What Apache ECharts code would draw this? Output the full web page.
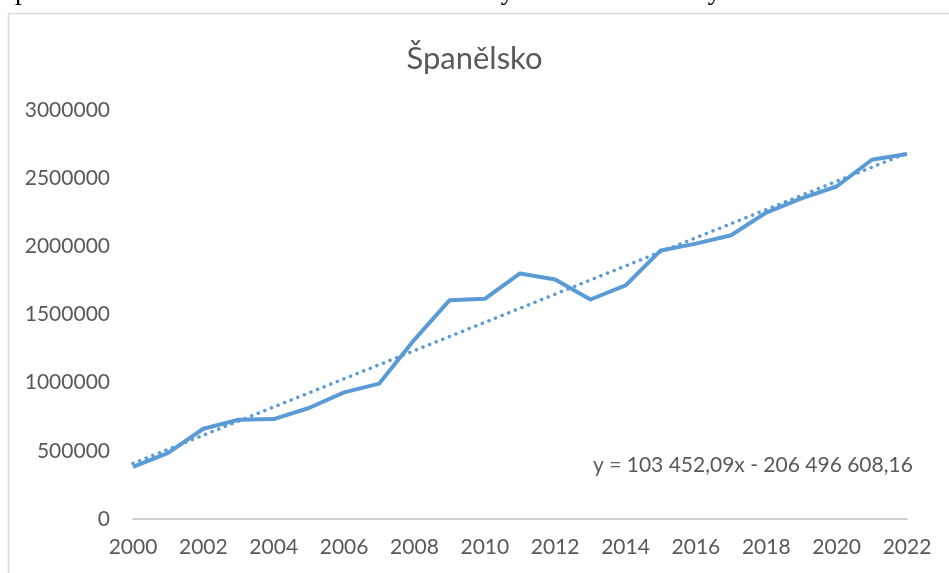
<!DOCTYPE html>
<html>
<head>
<meta charset="utf-8">
<title>Španělsko</title>
<script src="https://cdn.jsdelivr.net/npm/echarts@6/dist/echarts.min.js"></script>
<style>
  html, body { margin: 0; padding: 0; background: #fff; }
  #chart { width: 949px; height: 573px; }
</style>
</head>
<body>
<div id="chart"></div>
<script>
// roky a hodnoty
var years = [2000, 2001, 2002, 2003, 2004, 2005, 2006, 2007, 2008, 2009, 2010, 2011,
             2012, 2013, 2014, 2015, 2016, 2017, 2018, 2019, 2020, 2021, 2022];
var values = [382000, 485000, 662000, 728000, 733000, 814000, 929000, 993000, 1316000, 1605000, 1615000, 1801000,
              1757000, 1610000, 1713000, 1970000, 2020000, 2081000, 2248000, 2351000, 2439000, 2635000, 2677000];
// lineární trend - krajní body podle rovnice v grafu
var trendYears = [2000, 2022];
var trendValues = [407572, 2683518];
var equation = 'y = 103 452,09x - 206 496 608,16';
var chartTitle = 'Španělsko';
var caption = 'Španělska za období 2000 - 2022 na základě výše uvedené tabulky.';

var lineColor = '#5B9BD5';
var textColor = '#595959';
var font = 'Lato, "Open Sans", sans-serif';

var chart = echarts.init(document.getElementById('chart'));

chart.setOption({
  animation: false,
  title: {
    text: chartTitle,
    left: 'center',
    top: 38,
    textStyle: { fontFamily: font, fontSize: 31, fontWeight: 'normal', color: textColor }
  },
  grid: { left: 133, right: 42, top: 110, bottom: 54 },
  xAxis: {
    type: 'value',
    min: 2000,
    max: 2022,
    interval: 2,
    axisLine: { lineStyle: { color: '#BFBFBF', width: 1.5 } },
    axisTick: { show: false },
    splitLine: { show: false },
    axisLabel: {
      color: textColor, fontFamily: font, fontSize: 21, margin: 18,
      formatter: function (v) { return String(v); }
    }
  },
  yAxis: {
    type: 'value',
    min: 0,
    max: 3000000,
    interval: 500000,
    axisLine: { show: false },
    axisTick: { show: false },
    splitLine: { show: false },
    axisLabel: {
      color: textColor, fontFamily: font, fontSize: 21, margin: 23,
      formatter: function (v) { return String(v); }
    }
  },
  series: [
    {
      name: 'trend',
      type: 'line',
      data: trendYears.map(function (y, i) { return [y, trendValues[i]]; }),
      showSymbol: false,
      silent: true,
      lineStyle: { color: lineColor, width: 3.5, type: [0.1, 7], cap: 'round' },
      z: 1
    },
    {
      name: chartTitle,
      type: 'line',
      data: years.map(function (y, i) { return [y, values[i]]; }),
      showSymbol: false,
      lineStyle: { color: lineColor, width: 4, join: 'round' },
      z: 2
    }
  ],
  graphic: [
    {
      type: 'rect',
      shape: { x: 8.5, y: 13.5, width: 960, height: 600 },
      style: { fill: 'none', stroke: '#D9D9D9', lineWidth: 1.5 },
      silent: true,
      z: -1
    },
    {
      type: 'text',
      left: 0,
      top: -22,
      style: { text: caption, font: '27px "Liberation Serif", serif', fill: '#000' },
      silent: true
    },
    {
      type: 'text',
      left: 593,
      top: 455,
      style: { text: equation, fontFamily: font, fontSize: 21, fill: textColor },
      silent: true
    }
  ]
});
</script>
</body>
</html>
